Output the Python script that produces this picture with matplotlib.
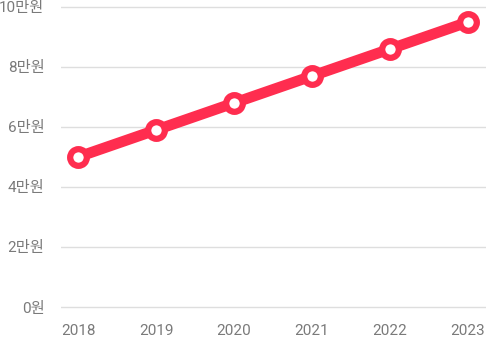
import matplotlib
matplotlib.use("Agg")
import matplotlib.pyplot as plt
from matplotlib.ticker import FuncFormatter

plt.rcParams['font.family'] = ['Roboto', 'Noto Sans CJK KR', 'DejaVu Sans']

years = [2018, 2019, 2020, 2021, 2022, 2023]
values = [50000, 59000, 68000, 77000, 86000, 95000]
y_ticks = [0, 20000, 40000, 60000, 80000, 100000]


def won_label(v, _pos=None):
    if v == 0:
        return "0원"
    return f"{int(v // 10000)}만원"


W, H = 486, 339
fig = plt.figure(figsize=(W / 100, H / 100), dpi=100)
# plot area: y=0 sits at pixel row 307, y=100000 at row 7
pad_px = 4
ax = fig.add_axes([61 / W, 1 - (307 + pad_px) / H, (486 - 61) / W,
                   (300 + 2 * pad_px) / H])

line_color = "#FF2D4F"
ax.plot(years, values, color=line_color, lw=7.8, solid_capstyle="round",
        solid_joinstyle="round", zorder=3, clip_on=False,
        marker="o", markersize=12, markerfacecolor="white",
        markeredgecolor=line_color, markeredgewidth=4.5)

ax.set_xlim(2018 - 17 / 78, 2023 + 18 / 78)
per_px = 100000 / 300
ax.set_ylim(-pad_px * per_px, 100000 + pad_px * per_px)
ax.set_yticks(y_ticks)
ax.yaxis.set_major_formatter(FuncFormatter(won_label))
ax.set_xticks(years)
ax.set_xticklabels([str(y) for y in years])

ax.grid(axis="y", color="#dedede", lw=1)
ax.set_axisbelow(True)
for s in ax.spines.values():
    s.set_visible(False)
ax.tick_params(axis="both", length=0, labelsize=11, colors="#7a7a7a")
ax.tick_params(axis="y", pad=12)
ax.tick_params(axis="x", pad=9.5)
# keep the top label fully inside the canvas
ax.get_yticklabels()[-1].set_verticalalignment("center_baseline")

fig.savefig("out.png", dpi=100, facecolor="white")
